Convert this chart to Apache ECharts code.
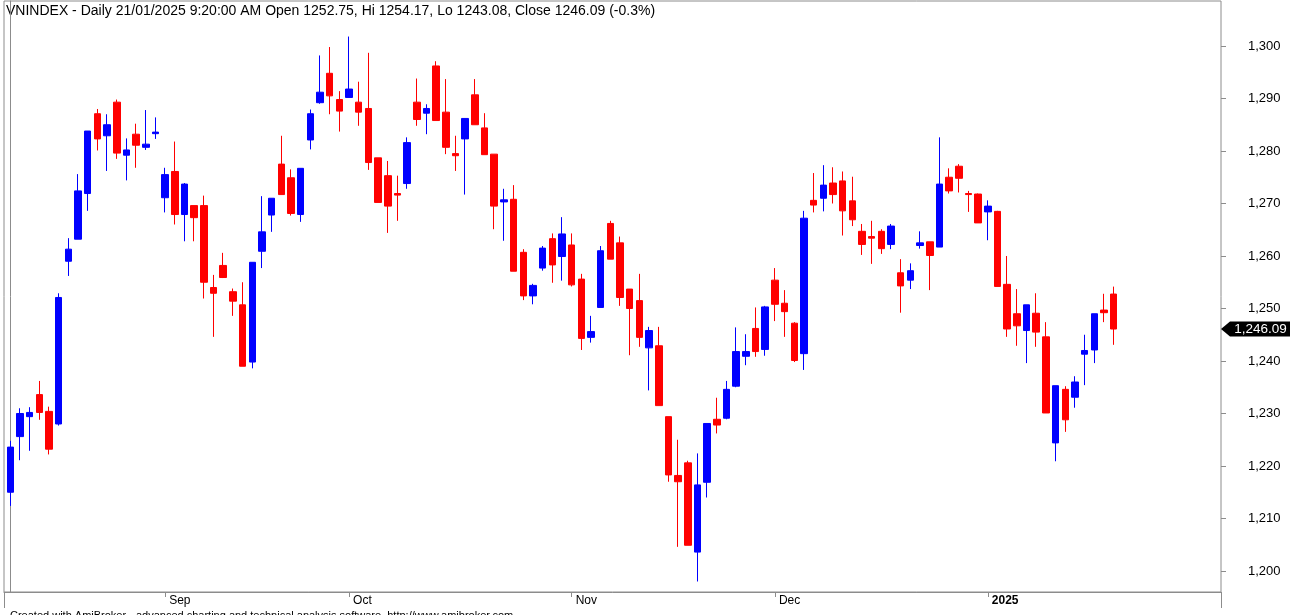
<!DOCTYPE html>
<html>
<head>
<meta charset="utf-8">
<title>VNINDEX - Daily</title>
<script src="https://cdn.jsdelivr.net/npm/echarts@6/dist/echarts.min.js"></script>
<style>
  html, body { margin: 0; padding: 0; background: #fff; }
  #chart { width: 1306px; height: 615px; }
</style>
</head>
<body>
<div id="chart"></div>
<script>
// trading days, 09/08/2024 .. 21/01/2025
const dates = [
  '2024-08-09', '2024-08-12', '2024-08-13', '2024-08-14', '2024-08-15', '2024-08-16',
  '2024-08-19', '2024-08-20', '2024-08-21', '2024-08-22', '2024-08-23',
  '2024-08-26', '2024-08-27', '2024-08-28', '2024-08-29', '2024-08-30',
  '2024-09-04', '2024-09-05', '2024-09-06',
  '2024-09-09', '2024-09-10', '2024-09-11', '2024-09-12', '2024-09-13',
  '2024-09-16', '2024-09-17', '2024-09-18', '2024-09-19', '2024-09-20',
  '2024-09-23', '2024-09-24', '2024-09-25', '2024-09-26', '2024-09-27', '2024-09-30',
  '2024-10-01', '2024-10-02', '2024-10-03', '2024-10-04',
  '2024-10-07', '2024-10-08', '2024-10-09', '2024-10-10', '2024-10-11',
  '2024-10-14', '2024-10-15', '2024-10-16', '2024-10-17', '2024-10-18',
  '2024-10-21', '2024-10-22', '2024-10-23', '2024-10-24', '2024-10-25',
  '2024-10-28', '2024-10-29', '2024-10-30', '2024-10-31',
  '2024-11-01', '2024-11-04', '2024-11-05', '2024-11-06', '2024-11-07', '2024-11-08',
  '2024-11-11', '2024-11-12', '2024-11-13', '2024-11-14', '2024-11-15',
  '2024-11-18', '2024-11-19', '2024-11-20', '2024-11-21', '2024-11-22',
  '2024-11-25', '2024-11-26', '2024-11-27', '2024-11-28', '2024-11-29',
  '2024-12-02', '2024-12-03', '2024-12-04', '2024-12-05', '2024-12-06',
  '2024-12-09', '2024-12-10', '2024-12-11', '2024-12-12', '2024-12-13',
  '2024-12-16', '2024-12-17', '2024-12-18', '2024-12-19', '2024-12-20',
  '2024-12-23', '2024-12-24', '2024-12-25', '2024-12-26', '2024-12-27',
  '2024-12-30', '2024-12-31',
  '2025-01-02', '2025-01-03', '2025-01-06', '2025-01-07', '2025-01-08', '2025-01-09', '2025-01-10',
  '2025-01-13', '2025-01-14', '2025-01-15', '2025-01-16', '2025-01-17', '2025-01-20', '2025-01-21'
]

const open = [
  1215.0, 1225.6, 1229.4, 1233.6, 1230.4, 1228.0, 1259.0, 1263.2, 1271.9, 1287.1,
  1282.9, 1289.3, 1279.2, 1283.2, 1280.7, 1283.3, 1271.1, 1276.1, 1267.9, 1269.6,
  1269.6, 1254.0, 1258.2, 1253.2, 1250.7, 1239.8, 1260.9, 1267.8, 1277.5, 1274.9,
  1267.9, 1282.1, 1289.2, 1294.8, 1289.8, 1290.2, 1289.3, 1288.1, 1278.7, 1275.3,
  1271.9, 1273.8, 1289.3, 1287.2, 1296.2, 1287.4, 1279.5, 1282.3, 1290.7, 1284.4,
  1279.4, 1270.3, 1270.8, 1260.7, 1252.4, 1257.7, 1263.3, 1259.9, 1262.1, 1255.6,
  1244.5, 1250.2, 1266.2, 1262.5, 1253.7, 1251.5, 1242.5, 1242.9, 1229.4, 1218.2,
  1220.6, 1203.6, 1216.9, 1228.9, 1229.1, 1235.2, 1240.9, 1246.2, 1242.2, 1255.4,
  1251.0, 1247.2, 1241.4, 1270.6, 1271.0, 1273.9, 1274.3, 1270.5, 1264.7, 1263.7,
  1264.7, 1262.2, 1256.8, 1255.4, 1262.0, 1262.7, 1261.7, 1275.0, 1277.1, 1271.9,
  1271.8, 1268.4, 1268.5, 1254.6, 1249.0, 1245.8, 1249.1, 1244.6, 1224.4, 1234.6,
  1233.1, 1241.3, 1242.1, 1249.7, 1252.75
]
const close = [
  1223.6, 1230.0, 1230.2, 1230.2, 1223.2, 1252.1, 1261.3, 1272.4, 1283.8, 1282.3,
  1285.0, 1279.6, 1280.2, 1281.1, 1281.3, 1283.6, 1275.5, 1267.9, 1273.7, 1267.3,
  1255.0, 1252.9, 1255.9, 1251.4, 1239.0, 1258.8, 1264.6, 1271.0, 1271.7, 1268.1,
  1276.7, 1287.1, 1291.2, 1290.5, 1287.6, 1291.8, 1287.4, 1277.8, 1270.2, 1269.5,
  1271.6, 1281.6, 1286.0, 1288.1, 1285.8, 1280.7, 1279.1, 1286.2, 1285.0, 1279.3,
  1269.5, 1270.7, 1257.1, 1252.4, 1254.4, 1261.5, 1258.3, 1264.2, 1254.5, 1244.3,
  1245.6, 1261.0, 1259.4, 1252.1, 1250.0, 1244.5, 1245.8, 1231.5, 1218.3, 1217.0,
  1204.9, 1216.4, 1228.1, 1227.8, 1234.6, 1241.8, 1241.8, 1241.8, 1250.3, 1250.8,
  1249.4, 1240.1, 1267.2, 1269.7, 1273.5, 1271.7, 1268.6, 1266.9, 1262.2, 1263.4,
  1261.4, 1265.7, 1254.3, 1257.2, 1262.5, 1260.1, 1273.7, 1272.4, 1274.8, 1271.7,
  1266.3, 1269.5, 1254.2, 1246.1, 1246.7, 1250.7, 1245.5, 1230.1, 1235.3, 1228.8,
  1236.0, 1242.0, 1249.0, 1249.2, 1246.09
]
const low = [
  1212.4, 1221.1, 1222.9, 1228.8, 1222.2, 1227.7, 1256.2, 1263.2, 1268.6, 1280.1,
  1276.2, 1278.5, 1274.4, 1276.8, 1280.2, 1282.3, 1268.3, 1266.0, 1262.8, 1262.8,
  1251.9, 1244.6, 1255.8, 1248.6, 1239.0, 1238.6, 1257.7, 1264.6, 1271.7, 1267.7,
  1266.5, 1280.3, 1289.0, 1287.0, 1283.7, 1290.2, 1284.8, 1276.4, 1270.2, 1264.4,
  1266.7, 1272.8, 1284.8, 1283.2, 1285.8, 1279.4, 1276.2, 1271.7, 1285.0, 1279.3,
  1265.1, 1262.9, 1257.1, 1251.6, 1250.8, 1257.2, 1254.9, 1255.3, 1254.2, 1242.1,
  1243.5, 1250.2, 1259.4, 1250.5, 1241.1, 1242.7, 1234.4, 1231.5, 1217.0, 1204.6,
  1204.9, 1198.0, 1214.0, 1226.2, 1228.9, 1235.0, 1239.2, 1240.8, 1241.0, 1247.6,
  1244.6, 1239.8, 1238.3, 1268.3, 1268.5, 1270.0, 1263.9, 1265.7, 1260.2, 1258.5,
  1260.4, 1261.3, 1249.2, 1253.7, 1261.4, 1253.5, 1261.7, 1271.9, 1272.1, 1268.4,
  1266.3, 1263.0, 1254.2, 1244.6, 1242.9, 1239.6, 1242.7, 1230.1, 1220.9, 1226.5,
  1231.1, 1235.4, 1239.6, 1247.4, 1243.08
]
const high = [
  1224.8, 1231.0, 1231.2, 1236.2, 1231.3, 1252.9, 1263.4, 1275.6, 1283.8, 1288.0,
  1287.0, 1289.8, 1282.4, 1285.2, 1287.8, 1286.4, 1276.8, 1281.8, 1273.9, 1269.6,
  1271.5, 1256.4, 1260.6, 1253.8, 1255.0, 1258.8, 1271.4, 1271.0, 1282.9, 1276.5,
  1276.7, 1287.9, 1298.2, 1299.8, 1291.4, 1301.8, 1293.2, 1298.7, 1278.7, 1278.1,
  1275.3, 1282.6, 1293.8, 1288.9, 1297.1, 1293.7, 1282.9, 1286.2, 1293.7, 1287.2,
  1279.4, 1272.8, 1273.5, 1261.3, 1254.7, 1261.9, 1264.3, 1267.4, 1264.3, 1256.6,
  1248.6, 1261.9, 1266.7, 1263.7, 1253.7, 1256.6, 1246.5, 1246.5, 1229.4, 1225.0,
  1221.0, 1222.4, 1228.1, 1233.0, 1236.2, 1246.4, 1245.1, 1250.2, 1250.5, 1257.7,
  1253.5, 1247.4, 1268.6, 1275.8, 1277.3, 1276.9, 1276.1, 1275.1, 1266.1, 1266.7,
  1265.1, 1266.1, 1259.4, 1258.6, 1264.7, 1262.7, 1282.6, 1276.7, 1277.5, 1272.4,
  1271.9, 1270.6, 1268.6, 1260.0, 1253.7, 1250.7, 1252.9, 1247.4, 1235.3, 1235.2,
  1237.1, 1245.0, 1249.0, 1252.8, 1254.17
]

// month ticks (index of first bar of the month) and their labels
const monthIdx = [16, 35, 58, 79, 101]
const monthLabels = ['Sep', 'Oct', 'Nov', 'Dec', '2025']
const priceTicks = [1200, 1210, 1220, 1230, 1240, 1250, 1260, 1270, 1280, 1290, 1300]

const titleText = 'VNINDEX - Daily 21/01/2025 9:20:00 AM Open 1252.75, Hi 1254.17, Lo 1243.08, Close 1246.09 (-0.3%)'
const footerText = 'Created with AmiBroker - advanced charting and technical analysis software. http://www.amibroker.com'

const xMin = -0.65
const xMax = 125.09
const yMin = 1196.0
const yMax = 1308.57

const FONT = '"Liberation Sans", Arial, sans-serif'
const FRAME = '#8c8c8c'

function fmtPrice(v, dec) {
  return Number(v).toLocaleString('en-US', { minimumFractionDigits: dec, maximumFractionDigits: dec })
}

const ohlc = dates.map((d, i) => [i, open[i], close[i], low[i], high[i]])
const lastClose = close[close.length - 1]

const chart = echarts.init(document.getElementById('chart'))
chart.setOption({
  animation: false,
  backgroundColor: '#fff',
  textStyle: { fontFamily: FONT },
  grid: {
    left: 4, right: 85, top: 1, bottom: 23,
    show: true, borderColor: FRAME, borderWidth: 1, backgroundColor: '#fff'
  },
  xAxis: {
    type: 'value',
    min: xMin,
    max: xMax,
    splitLine: { show: false },
    axisLine: { show: true, lineStyle: { color: FRAME, width: 1 } },
    axisTick: {
      show: true, customValues: monthIdx, length: 5,
      lineStyle: { color: FRAME, width: 1 }
    },
    axisLabel: {
      show: true,
      customValues: monthIdx,
      margin: 3,
      align: 'left',
      verticalAlign: 'top',
      padding: [0, 0, 0, 4],
      color: '#000',
      fontSize: 12,
      fontFamily: FONT,
      formatter: v => {
        const lab = monthLabels[monthIdx.indexOf(Math.round(v))] || ''
        return /^\d{4}$/.test(lab) ? '{y|' + lab + '}' : lab
      },
      rich: { y: { fontWeight: 'bold', fontSize: 12, fontFamily: FONT, color: '#000' } }
    }
  },
  yAxis: {
    type: 'value',
    position: 'right',
    min: yMin,
    max: yMax,
    scale: true,
    splitLine: { show: false },
    axisLine: { show: true, lineStyle: { color: FRAME, width: 1 } },
    // custom tick values land on the wrong side for a right axis, drawn by the tick series below
    axisTick: { show: false },
    axisLabel: {
      show: true,
      customValues: priceTicks,
      margin: 27,
      align: 'left',
      color: '#000',
      fontSize: 13,
      fontFamily: FONT,
      formatter: v => fmtPrice(v, 0)
    }
  },
  series: [{
    type: 'candlestick',
    data: ohlc,
    encode: { x: 0, y: [1, 2, 3, 4] },
    barWidth: 7,
    itemStyle: {
      color: '#0000ff',
      color0: '#ff0000',
      borderColor: '#0000ff',
      borderColor0: '#ff0000',
      borderWidth: 1
    },
    markPoint: {
      silent: true,
      symbol: 'path://M0 7.5L9 0L69 0L69 15L9 15Z',
      symbolSize: [69, 15],
      symbolOffset: [34.5, 0],
      itemStyle: { color: '#000', borderWidth: 0 },
      label: {
        show: true,
        position: 'inside',
        offset: [5, 0],
        color: '#fff',
        fontSize: 13.5,
        fontFamily: FONT,
        formatter: () => fmtPrice(lastClose, 2)
      },
      data: [{ coord: [xMax, lastClose] }]
    }
  }, {
    // price axis ticks, outside the right edge of the plot
    type: 'custom',
    silent: true,
    clip: false,
    data: priceTicks.map(v => [xMax, v]),
    encode: { x: 0, y: 1 },
    renderItem: (params, api) => {
      const p = api.coord([api.value(0), api.value(1)])
      const y = Math.round(p[1]) + 0.5
      return {
        type: 'line',
        shape: { x1: p[0], y1: y, x2: p[0] + 5, y2: y },
        style: { stroke: FRAME, lineWidth: 1 }
      }
    }
  }],
  graphic: [
    { type: 'line', shape: { x1: 4.5, y1: 592, x2: 4.5, y2: 608 }, style: { stroke: FRAME, lineWidth: 1 }, silent: true },
    { type: 'line', shape: { x1: 1221.5, y1: 592, x2: 1221.5, y2: 608 }, style: { stroke: FRAME, lineWidth: 1 }, silent: true },
    {
      type: 'text', left: 6, top: 4, silent: true,
      style: { text: titleText, fill: '#000', font: '14px ' + FONT }
    },
    {
      type: 'text', left: 10, top: 610, silent: true,
      style: { text: footerText, fill: '#000', font: '11px ' + FONT }
    }
  ]
})
</script>
</body>
</html>
